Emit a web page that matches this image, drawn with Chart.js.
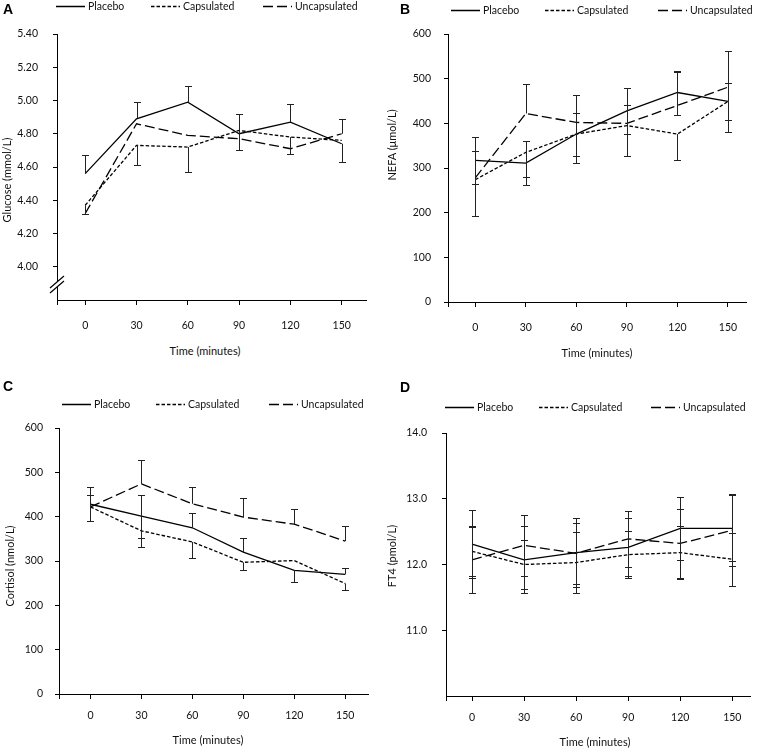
<!DOCTYPE html>
<html>
<head>
<meta charset="utf-8">
<script src="https://cdn.jsdelivr.net/npm/chart.js"></script>
<style>
    body { margin: 0; background: #fff; }
    #page { position: relative; width: 757px; height: 748px; overflow: hidden; font-family: Lato, 'Open Sans', sans-serif; color: #111; }
    .panel { position: absolute; }
    .letter { position: absolute; font: bold 14px/14px 'Liberation Sans', Arial, sans-serif; color: #000; }
    .ytitle { position: absolute; font-size: 11px; white-space: nowrap; transform: translate(-50%, -50%) rotate(-90deg); }
    .xtitle { position: absolute; font-size: 11px; white-space: nowrap; transform: translate(-50%, -50%); }
    .leg { position: absolute; font-size: 10.5px; line-height: 13px; white-space: nowrap; display: flex; align-items: center; transform: translateY(-50%); }
    .leg svg { display: block; margin-right: 3px; }
</style>
</head>
<body>
<div id="page">
    <canvas id="chartA" class="panel" width="378" height="340" style="left:0;top:0"></canvas>
    <canvas id="chartB" class="panel" width="379" height="340" style="left:378px;top:0"></canvas>
    <canvas id="chartC" class="panel" width="380" height="378" style="left:0;top:370px"></canvas>
    <canvas id="chartD" class="panel" width="379" height="378" style="left:378px;top:370px"></canvas>

    <div class="letter" style="left:3px;top:1.5px">A</div>
    <div class="letter" style="left:400px;top:1.5px">B</div>
    <div class="letter" style="left:3px;top:378.5px">C</div>
    <div class="letter" style="left:400px;top:380px">D</div>

    <div class="ytitle" style="left:6px;top:180px">Glucose (mmol/L)</div>
    <div class="ytitle" style="left:391px;top:145px">NEFA (μmol/L)</div>
    <div class="ytitle" style="left:9px;top:566px">Cortisol (nmol/L)</div>
    <div class="ytitle" style="left:391px;top:556px">FT4 (pmol/L)</div>

    <div class="xtitle" style="left:205px;top:350px">Time (minutes)</div>
    <div class="xtitle" style="left:597px;top:352px">Time (minutes)</div>
    <div class="xtitle" style="left:208px;top:739px">Time (minutes)</div>
    <div class="xtitle" style="left:595px;top:741px">Time (minutes)</div>
</div>

<script>
    // sampling times (minutes)
    var times = [0, 30, 60, 90, 120, 150];
    var seriesNames = ['Placebo', 'Capsulated', 'Uncapsulated'];

    // A - glucose (mmol/L), error bars as drawn (up / down)
    var glucosePlacebo = [4.56, 4.89, 4.99, 4.80, 4.87, 4.74];
    var glucosePlaceboUp = [0.11, 0.10, 0.10, 0, 0.11, 0];
    var glucosePlaceboDown = [0, 0, 0, 0, 0, 0.11];
    var glucoseCapsulated = [4.37, 4.73, 4.72, 4.82, 4.78, 4.76];
    var glucoseCapsulatedUp = [0, 0, 0, 0.10, 0, 0];
    var glucoseCapsulatedDown = [0.05, 0.12, 0.15, 0.12, 0.10, 0];
    var glucoseUncapsulated = [4.32, 4.86, 4.79, 4.77, 4.71, 4.80];
    var glucoseUncapsulatedUp = [0, 0, 0, 0, 0, 0.09];
    var glucoseUncapsulatedDown = [0, 0, 0, 0, 0, 0];
    var glucoseTicks = [4.0, 4.2, 4.4, 4.6, 4.8, 5.0, 5.2, 5.4];

    // B - NEFA (umol/L)
    var nefaPlacebo = [317, 311, 376, 428, 469, 449];
    var nefaPlaceboUp = [52, 50, 0, 51, 49, 41];
    var nefaPlaceboDown = [52, 48, 65, 52, 51, 41];
    var nefaCapsulated = [274, 335, 376, 395, 376, 449];
    var nefaCapsulatedUp = [63, 0, 48, 0, 0, 0];
    var nefaCapsulatedDown = [0, 55, 49, 69, 59, 68];
    var nefaUncapsulated = [278, 422, 402, 400, 440, 481];
    var nefaUncapsulatedUp = [0, 65, 61, 41, 76, 80];
    var nefaUncapsulatedDown = [86, 0, 0, 0, 0, 0];
    var nefaTicks = [0, 100, 200, 300, 400, 500, 600];

    // C - cortisol (nmol/L)
    var cortisolPlacebo = [428, 401, 375, 320, 279, 270];
    var cortisolPlaceboUp = [20, 49, 34, 32, 0, 15];
    var cortisolPlaceboDown = [0, 49, 0, 0, 26, 0];
    var cortisolCapsulated = [422, 368, 343, 297, 301, 249];
    var cortisolCapsulatedUp = [0, 0, 0, 0, 0, 0];
    var cortisolCapsulatedDown = [32, 36, 36, 18, 0, 15];
    var cortisolUncapsulated = [422, 474, 429, 399, 383, 345];
    var cortisolUncapsulatedUp = [45, 53, 38, 42, 35, 34];
    var cortisolUncapsulatedDown = [0, 0, 0, 0, 0, 0];
    var cortisolTicks = [0, 100, 200, 300, 400, 500, 600];

    // D - FT4 (pmol/L), symmetric error bars
    var ft4Placebo = [12.31, 12.07, 12.18, 12.26, 12.55, 12.55];
    var ft4PlaceboErr = [0.52, 0.51, 0.52, 0.44, 0.48, 0.50];
    var ft4Capsulated = [12.20, 12.00, 12.03, 12.15, 12.18, 12.08];
    var ft4CapsulatedErr = [0.38, 0.38, 0.47, 0.36, 0.40, 0.40];
    var ft4Uncapsulated = [12.07, 12.29, 12.17, 12.39, 12.32, 12.52];
    var ft4UncapsulatedErr = [0.50, 0.47, 0.46, 0.43, 0.53, 0.55];
    var ft4Ticks = [11.0, 12.0, 13.0, 14.0];

    var dashes = [[], [3.5, 2], [10, 4]];
    var tickFont = { family: "Lato, 'Open Sans', sans-serif", size: 10.5 };

    // vertical error bars with small caps
    var errorBars = {
        id: 'errorBars',
        afterDatasetsDraw: function(chart) {
            var ctx = chart.ctx;
            var yScale = chart.scales.y;
            ctx.save();
            ctx.strokeStyle = '#222';
            ctx.lineWidth = 1;
            ctx.setLineDash([]);
            chart.data.datasets.forEach(function(ds, i) {
                var meta = chart.getDatasetMeta(i);
                meta.data.forEach(function(pt, j) {
                    var v = ds.data[j].y;
                    var x = Math.round(pt.x) + 0.5;
                    [[ds.errUp[j], 1], [ds.errDown[j], -1]].forEach(function(e) {
                        if (!e[0]) return;
                        var yEnd = Math.round(yScale.getPixelForValue(v + e[1] * e[0])) + 0.5;
                        ctx.beginPath();
                        ctx.moveTo(x, pt.y);
                        ctx.lineTo(x, yEnd);
                        ctx.moveTo(x - 3.5, yEnd);
                        ctx.lineTo(x + 3.5, yEnd);
                        ctx.stroke();
                    });
                });
            });
            ctx.restore();
        }
    };

    // "//" break on the glucose y axis
    var axisBreak = {
        id: 'axisBreak',
        afterDraw: function(chart) {
            var ctx = chart.ctx;
            var ax = chart.chartArea.left;
            var y = chart.chartArea.bottom - 15;
            ctx.save();
            ctx.fillStyle = '#fff';
            ctx.fillRect(ax - 2, y - 3, 4, 5);
            ctx.strokeStyle = '#000';
            ctx.lineWidth = 1.2;
            ctx.beginPath();
            ctx.moveTo(ax - 7, y + 3); ctx.lineTo(ax + 7, y - 9);
            ctx.moveTo(ax - 7, y + 8); ctx.lineTo(ax + 7, y - 4);
            ctx.stroke();
            ctx.restore();
        }
    };

    function makeChart(id, p) {
        var datasets = seriesNames.map(function(name, k) {
            return {
                label: name,
                data: times.map(function(t, i) { return { x: t, y: p.values[k][i] }; }),
                errUp: p.up[k],
                errDown: p.down[k],
                borderColor: '#000',
                borderWidth: 1.3,
                borderDash: dashes[k],
                pointRadius: 0,
                fill: false,
                tension: 0
            };
        });
        new Chart(document.getElementById(id), {
            type: 'line',
            data: { datasets: datasets },
            options: {
                responsive: false,
                animation: false,
                layout: { padding: { top: p.padTop, right: p.padRight, left: 0, bottom: 0 } },
                plugins: { legend: { display: false }, tooltip: { enabled: false } },
                scales: {
                    x: {
                        type: 'linear',
                        min: p.xMin,
                        max: p.xMax,
                        afterBuildTicks: function(s) {
                            s.ticks = [p.xMin].concat(times).map(function(v) { return { value: v }; });
                        },
                        afterFit: function(s) { s.height = p.xHeight; },
                        ticks: {
                            autoSkip: false, maxRotation: 0, padding: p.xPad, color: '#111', font: tickFont,
                            callback: function(v) { return v < 0 ? '' : String(v); }
                        },
                        grid: { drawOnChartArea: false, tickLength: 5, color: '#000' },
                        border: { color: '#000', width: 1 }
                    },
                    y: {
                        min: p.yMin,
                        max: p.yMax,
                        afterBuildTicks: function(s) {
                            s.ticks = p.yTicks.map(function(v) { return { value: v }; });
                        },
                        afterFit: function(s) { s.width = p.yWidth; },
                        ticks: {
                            padding: p.yPad, color: '#111', font: tickFont,
                            callback: function(v) { return v.toFixed(p.dec); }
                        },
                        grid: { drawOnChartArea: false, tickLength: 4, color: '#000' },
                        border: { color: '#000', width: 1 }
                    }
                }
            },
            plugins: p.brk ? [errorBars, axisBreak] : [errorBars]
        });
    }

    // html legends above each panel
    function makeLegend(lineLefts, y) {
        var page = document.getElementById('page');
        seriesNames.forEach(function(name, k) {
            var div = document.createElement('div');
            div.className = 'leg';
            div.style.left = lineLefts[k] + 'px';
            div.style.top = y + 'px';
            div.innerHTML = '<svg width="29" height="4"><line x1="0" y1="2" x2="29" y2="2" stroke="#000" stroke-width="1.3"' +
                (dashes[k].length ? ' stroke-dasharray="' + dashes[k].join(',') + '"' : '') + '/></svg><span>' + name + '</span>';
            page.appendChild(div);
        });
    }

    makeChart('chartA', {
        values: [glucosePlacebo, glucoseCapsulated, glucoseUncapsulated],
        up: [glucosePlaceboUp, glucoseCapsulatedUp, glucoseUncapsulatedUp],
        down: [glucosePlaceboDown, glucoseCapsulatedDown, glucoseUncapsulatedDown],
        yMin: 3.8, yMax: 5.4, yTicks: glucoseTicks, dec: 2,
        xMin: -16.5, xMax: 164.2,
        padTop: 34, padRight: 12, yWidth: 57, xHeight: 40, xPad: 14, yPad: 15, brk: true
    });
    makeChart('chartB', {
        values: [nefaPlacebo, nefaCapsulated, nefaUncapsulated],
        up: [nefaPlaceboUp, nefaCapsulatedUp, nefaUncapsulatedUp],
        down: [nefaPlaceboDown, nefaCapsulatedDown, nefaUncapsulatedDown],
        yMin: 0, yMax: 600, yTicks: nefaTicks, dec: 0,
        xMin: -16.2, xMax: 160.7,
        padTop: 34, padRight: 11, yWidth: 70, xHeight: 38, xPad: 14, yPad: 13
    });
    makeChart('chartC', {
        values: [cortisolPlacebo, cortisolCapsulated, cortisolUncapsulated],
        up: [cortisolPlaceboUp, cortisolCapsulatedUp, cortisolUncapsulatedUp],
        down: [cortisolPlaceboDown, cortisolCapsulatedDown, cortisolUncapsulatedDown],
        yMin: 0, yMax: 600, yTicks: cortisolTicks, dec: 0,
        xMin: -18.5, xMax: 163.4,
        padTop: 58, padRight: 12, yWidth: 59, xHeight: 54, xPad: 10, yPad: 12
    });
    makeChart('chartD', {
        values: [ft4Placebo, ft4Capsulated, ft4Uncapsulated],
        up: [ft4PlaceboErr, ft4CapsulatedErr, ft4UncapsulatedErr],
        down: [ft4PlaceboErr, ft4CapsulatedErr, ft4UncapsulatedErr],
        yMin: 10, yMax: 14, yTicks: ft4Ticks, dec: 1,
        xMin: -15, xMax: 160.2,
        padTop: 63, padRight: 7, yWidth: 68, xHeight: 52, xPad: 10, yPad: 15
    });

    makeLegend([56, 151, 263], 6);
    makeLegend([451, 545, 658], 10);
    makeLegend([62, 156, 269], 404);
    makeLegend([445, 539, 651], 407);
</script>
</body>
</html>
